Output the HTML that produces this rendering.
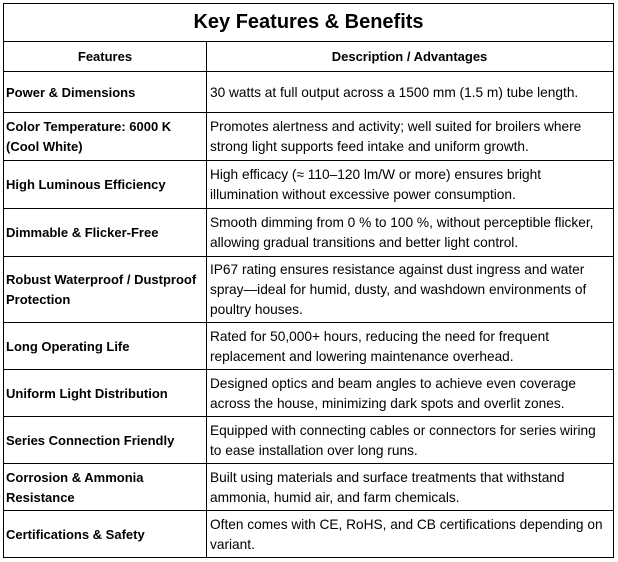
<!DOCTYPE html>
<html><head><style>
body{margin:0;width:618px;height:562px;background:#fff;position:relative;font-family:"Liberation Sans",sans-serif;color:#000;overflow:hidden}
.h{position:absolute;left:3px;width:611px;height:1px;background:#000}
.v{position:absolute;width:1px;background:#000}
.c{position:absolute;line-height:20px;display:flex;align-items:center;white-space:nowrap}
.f{left:6px;width:196px;font-weight:bold;font-size:13px}
.d{left:210px;width:400px;font-size:13.7px}
</style></head><body>
<div class="h" style="top:3px"></div>
<div class="h" style="top:41px"></div>
<div class="h" style="top:71px"></div>
<div class="h" style="top:112px"></div>
<div class="h" style="top:160px"></div>
<div class="h" style="top:208px"></div>
<div class="h" style="top:256px"></div>
<div class="h" style="top:322px"></div>
<div class="h" style="top:369px"></div>
<div class="h" style="top:416px"></div>
<div class="h" style="top:463px"></div>
<div class="h" style="top:510px"></div>
<div class="h" style="top:557px"></div>
<div class="v" style="left:3px;top:3px;height:555px"></div>
<div class="v" style="left:613px;top:3px;height:555px"></div>
<div class="v" style="left:206px;top:41px;height:517px"></div>
<div style="position:absolute;left:3px;width:611px;top:5px;height:35px;display:flex;align-items:center;justify-content:center;font-weight:bold;font-size:20px">Key Features &amp; Benefits</div>
<div class="c" style="left:5px;width:200px;top:43px;height:28px;justify-content:center;font-weight:bold;font-size:13px">Features</div>
<div class="c" style="left:207px;width:405px;top:43px;height:28px;justify-content:center;font-weight:bold;font-size:13px">Description / Advantages</div>

<div class="c f" style="top:73px;height:39px">Power &amp; Dimensions</div>
<div class="c d" style="top:73px;height:39px">30 watts at full output across a 1500 mm (1.5 m) tube length.</div>

<div class="c f" style="top:114px;height:46px">Color Temperature: 6000 K<br>(Cool White)</div>
<div class="c d" style="top:114px;height:46px">Promotes alertness and activity; well suited for broilers where<br>strong light supports feed intake and uniform growth.</div>

<div class="c f" style="top:162px;height:46px">High Luminous Efficiency</div>
<div class="c d" style="top:162px;height:46px">High efficacy (≈ 110–120 lm/W or more) ensures bright<br>illumination without excessive power consumption.</div>

<div class="c f" style="top:210px;height:46px">Dimmable &amp; Flicker-Free</div>
<div class="c d" style="top:210px;height:46px">Smooth dimming from 0 % to 100 %, without perceptible flicker,<br>allowing gradual transitions and better light control.</div>

<div class="c f" style="top:258px;height:64px">Robust Waterproof / Dustproof<br>Protection</div>
<div class="c d" style="top:258px;height:64px">IP67 rating ensures resistance against dust ingress and water<br>spray—ideal for humid, dusty, and washdown environments of<br>poultry houses.</div>

<div class="c f" style="top:324px;height:45px">Long Operating Life</div>
<div class="c d" style="top:324px;height:45px">Rated for 50,000+ hours, reducing the need for frequent<br>replacement and lowering maintenance overhead.</div>

<div class="c f" style="top:371px;height:45px">Uniform Light Distribution</div>
<div class="c d" style="top:371px;height:45px">Designed optics and beam angles to achieve even coverage<br>across the house, minimizing dark spots and overlit zones.</div>

<div class="c f" style="top:418px;height:45px">Series Connection Friendly</div>
<div class="c d" style="top:418px;height:45px">Equipped with connecting cables or connectors for series wiring<br>to ease installation over long runs.</div>

<div class="c f" style="top:465px;height:45px">Corrosion &amp; Ammonia<br>Resistance</div>
<div class="c d" style="top:465px;height:45px">Built using materials and surface treatments that withstand<br>ammonia, humid air, and farm chemicals.</div>

<div class="c f" style="top:512px;height:45px">Certifications &amp; Safety</div>
<div class="c d" style="top:512px;height:45px">Often comes with CE, RoHS, and CB certifications depending on<br>variant.</div>
</body></html>
